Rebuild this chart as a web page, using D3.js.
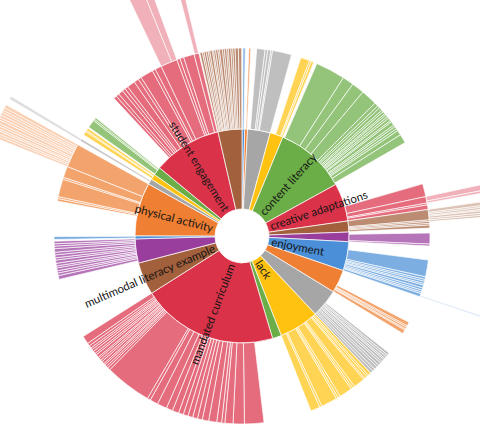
<!DOCTYPE html>
<html>
<head>
<meta charset="utf-8">
<script src="https://cdn.jsdelivr.net/npm/d3@7"></script>
<style>
  body { margin: 0; background: #fff; }
  svg { display: block; }
</style>
</head>
<body>
<div id="chart"></div>
<script>
// top level codes, clockwise from 12 o'clock
const categories = ["access", "assessment", "barriers", "collaboration", "content literacy",
  "creative adaptations", "critical thinking", "digital tools", "enjoyment", "equity",
  "funding", "lack", "language", "mandated curriculum", "multimodal literacy example",
  "parent involvement", "peer learning", "physical activity", "reading", "scheduling",
  "space", "student engagement", "teacher training"];
const categoryTotals = [1.5, 1.5, 12.3, 7.2, 38.8, 20.7, 6, 5.2, 15.8, 12.6, 15.4, 21.7,
  4.9, 73.9, 17.7, 13.1, 1.7, 29, 3, 3, 4.5, 37.5, 13];
// uncoded share at the start of each code
const uncodedLead = [0.3, 0.6, 1.5, 3, 1, 12.7, 0, 1.2, 4.3, 8.5, 7.1, 0, 0, 9.9, 0, 1.3,
  0.5, 10.6, 1.4, 0.5, 0.3, 7.5, 0];
// second level excerpts per code
const codeValues = [
  [0.7],
  [0.6],
  [2.6, 0.8, 1.0, 0.5, 5.9],
  [2.8, 0.6, 0.8],
  [9.2, 3.5, 3.9, 5, 1.2, 0.8, 1, 0.6, 0.8, 0.5, 0.7, 0.6, 0.9, 0.5, 1.2, 0.6, 0.8, 0.7, 1.5, 2.8],
  [4.0, 2.0, 0.6, 1.4],
  [3.2, 0.5, 0.6, 0.5, 0.9],
  [3.4, 0.6],
  [5.2, 0.8, 0.6, 0.7, 0.5, 0.9, 0.7, 0.6, 0.5, 1.0],
  [1.2, 0.5, 0.6, 0.4, 1.2],
  [0.8, 0.6, 0.7, 0.5, 0.8, 0.6, 0.9, 0.7, 1.0, 0.8, 0.9],
  [1.0, 0.6, 0.8, 0.5, 3.5, 0.7, 0.6, 4.0, 0.8, 0.6, 5.0, 0.7, 2.9],
  [],
  [6, 3.5, 2.5, 1, 1.5, 2.5, 2, 1.5, 1.5, 1.5, 1.5, 1.5, 2, 2, 3, 2.5, 1, 14.5, 0.8, 0.6,
   0.7, 0.5, 0.8, 0.6, 0.7, 0.5, 0.9, 0.6, 0.8, 0.7, 0.6, 0.8, 0.9, 2.5],
  [],
  [1.2, 0.8, 0.7, 0.9, 0.6, 0.8, 1.0, 0.7, 0.9, 0.8, 1.1, 0.8, 0.7, 0.8],
  [0.9],
  [0.8, 0.6, 5.5, 0.6, 3.5, 7.4],
  [0.7],
  [1.2, 0.4, 0.8],
  [2.5, 0.5, 0.6],
  [1, 1, 1.5, 1, 1, 2.5, 1.5, 1, 4, 1, 2, 5.2, 1, 1.2, 3.3, 1.5],
  [0.8, 0.5, 0.7, 0.6, 0.5, 0.8, 0.4, 0.6, 0.7, 0.5, 0.9, 0.6, 0.7, 0.5, 0.8, 0.6, 0.7, 1.0, 1.0]
];
// third level: [category, code] it hangs from
const detailParents = [[5, 1], [6, 0], [6, 1], [8, 9], [17, 5], [18, 0], [21, 11], [21, 15]];
const detailLead = [0, 0, 0, 0.6, 0, 0, 0, 0.2];
const detailValues = [
  [1.4, 0.6],
  [0.9, 0.4, 0.5, 0.3, 0.6, 0.5],
  [0.5],
  [0.3],
  [0.6, 0.5, 0.6, 0.4, 0.6, 0.5, 0.7, 0.5, 0.6, 0.6, 0.5, 0.6, 0.7],
  [0.7],
  [3.5, 1.7],
  [1.2]
];
const palette = ["#4a8fd7", "#ef7f33", "#a6a6a6", "#ffc211", "#6bad46", "#da3349", "#a2603c", "#9a3e9e"];

const width = 480, height = 448;
const cx = 242, cy = 236;

function blank(v) { return { name: "", blank: true, value: v }; }

function detailsFor(i, j, codeVal) {
  const k = detailParents.findIndex(p => p[0] === i && p[1] === j);
  if (k < 0) return null;
  const kids = [];
  if (detailLead[k] > 0) kids.push(blank(detailLead[k]));
  detailValues[k].forEach((v, n) => kids.push({ name: categories[i] + " " + (j + 1) + "." + (n + 1), value: v }));
  const tail = codeVal - detailLead[k] - d3.sum(detailValues[k]);
  if (tail > 0.001) kids.push(blank(tail));
  return kids;
}

const data = {
  name: "root",
  children: categories.map(function(name, i) {
    if (!codeValues[i].length) return { name: name, value: categoryTotals[i] };
    const kids = [];
    if (uncodedLead[i] > 0) kids.push(blank(uncodedLead[i]));
    codeValues[i].forEach(function(v, j) {
      const d = detailsFor(i, j, v);
      if (d) kids.push({ name: name + " " + (j + 1), children: d });
      else kids.push({ name: name + " " + (j + 1), value: v });
    });
    const tail = categoryTotals[i] - uncodedLead[i] - d3.sum(codeValues[i]);
    if (tail > 0.001) kids.push(blank(tail));
    return { name: name, children: kids };
  })
};

const root = d3.partition().size([2 * Math.PI, 4])(
  d3.hierarchy(data).sum(d => d.children ? 0 : d.value)
);

// ring radii per depth
const radius = d3.scaleLinear().domain([1, 2, 3, 4]).range([27, 107, 188, 270]);
const depthOpacity = { 1: 1, 2: 0.72, 3: 0.38 };

function topIndex(d) {
  while (d.depth > 1) d = d.parent;
  return categories.indexOf(d.data.name);
}

const arc = d3.arc()
  .startAngle(d => d.x0)
  .endAngle(d => d.x1)
  .innerRadius(d => radius(d.y0))
  .outerRadius(d => radius(d.y1));

const svg = d3.select("#chart").append("svg")
  .attr("width", width)
  .attr("height", height);

const g = svg.append("g").attr("transform", "translate(" + cx + "," + cy + ")");

g.selectAll("path")
  .data(root.descendants().filter(d => d.depth > 0 && !d.data.blank))
  .enter().append("path")
  .attr("d", arc)
  .attr("fill", d => palette[topIndex(d) % palette.length])
  .attr("fill-opacity", d => depthOpacity[d.depth])
  .attr("stroke", "#fff")
  .attr("stroke-width", 0.7);

// labels for the larger codes, reading along the radius
const labelled = root.children.filter(d => d.x1 - d.x0 > 0.272);
g.selectAll("text")
  .data(labelled)
  .enter().append("text")
  .attr("transform", function(d) {
    const a = (d.x0 + d.x1) / 2 * 180 / Math.PI;
    return "rotate(" + (a - 90) + ") translate(30,0) rotate(" + (a < 180 ? 0 : 180) + ")";
  })
  .attr("text-anchor", d => (d.x0 + d.x1) / 2 < Math.PI ? "start" : "end")
  .attr("dy", "0.35em")
  .attr("font-family", "Lato, 'Open Sans', sans-serif")
  .attr("font-size", 11.5)
  .attr("fill", "#151515")
  .text(d => d.data.name);
</script>
</body>
</html>
